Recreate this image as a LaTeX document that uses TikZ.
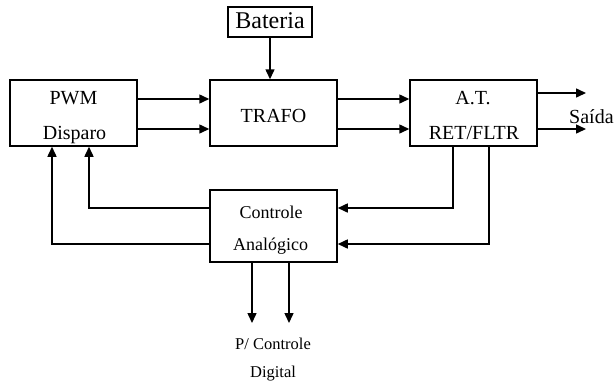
\documentclass[tikz,border=0pt]{standalone}
\usepackage{fontspec}
\setmainfont{Liberation Serif}
\usetikzlibrary{arrows.meta}
\begin{document}
\begin{tikzpicture}[x=1pt,y=-1pt,
  blk/.style={draw,line width=1.5pt,minimum width=127pt,minimum height=66pt,inner sep=0pt},
  arr/.style={line width=1.5pt,-{Triangle[length=10pt,width=9pt]}},
  txt/.style={anchor=base,inner sep=0pt,font=\fontsize{20}{20}\selectfont},
  stxt/.style={anchor=base,inner sep=0pt,font=\fontsize{18}{18}\selectfont},
  ttxt/.style={anchor=base,inner sep=0pt,font=\fontsize{16.5}{16.5}\selectfont}]
\useasboundingbox (0,0) rectangle (615,381);
% boxes
\node[blk] (PWM) at (73.5,113) {};
\node[blk] (TRAFO) at (273.5,113) {};
\node[blk] (AT) at (473.5,113) {};
\node[draw,line width=1.5pt,minimum width=84pt,minimum height=30pt,inner sep=0pt] (Bat) at (270,22) {};
\node[blk,minimum height=72pt] (CA) at (273.5,226) {};
% texts
\node[txt] (tPWM) at (73.5,104) {PWM};
\node[txt] (tDisp) at (74.5,139) {Disparo};
\node[txt] (tTRAFO) at (273.5,122) {TRAFO};
\node[txt] (tAT) at (473,104) {A.T.};
\node[txt] (tRET) at (474,139) {RET/FLTR};
\node[txt,anchor=base west] (tSaida) at (569,123) {Saída};
\node[anchor=base,inner sep=0pt,font=\fontsize{24}{24}\selectfont] (tBat) at (270,28) {Bateria};
\node[stxt] (tCon) at (271,218) {Controle};
\node[stxt] (tAna) at (270.5,250) {Analógico};
\node[ttxt] (tP) at (273,349) {P/ Controle};
\node[ttxt] (tDig) at (273,377) {Digital};
% coordinates
\coordinate (o1) at (586,93);
\coordinate (o2) at (586,129);
\coordinate (d1) at (252,323);
\coordinate (d2) at (289,323);
% connectors
\draw[arr] (Bat.south) -- (Bat.south |- TRAFO.north);
\draw[arr] (PWM.east |- 0,99) -- (TRAFO.west |- 0,99);
\draw[arr] (PWM.east |- 0,129) -- (TRAFO.west |- 0,129);
\draw[arr] (TRAFO.east |- 0,99) -- (AT.west |- 0,99);
\draw[arr] (TRAFO.east |- 0,129) -- (AT.west |- 0,129);
\draw[arr] (AT.east |- o1) -- (o1);
\draw[arr] (AT.east |- o2) -- (o2);
\draw[arr] (AT.south -| 453,0) -- (453,208) -- (CA.east |- 0,208);
\draw[arr] (AT.south -| 489,0) -- (489,244) -- (CA.east |- 0,244);
\draw[arr] (CA.west |- 0,208) -- (89,208) -- (PWM.south -| 89,0);
\draw[arr] (CA.west |- 0,244) -- (52,244) -- (PWM.south -| 52,0);
\draw[arr] (CA.south -| d1) -- (d1);
\draw[arr] (CA.south -| d2) -- (d2);
\end{tikzpicture}
\end{document}
